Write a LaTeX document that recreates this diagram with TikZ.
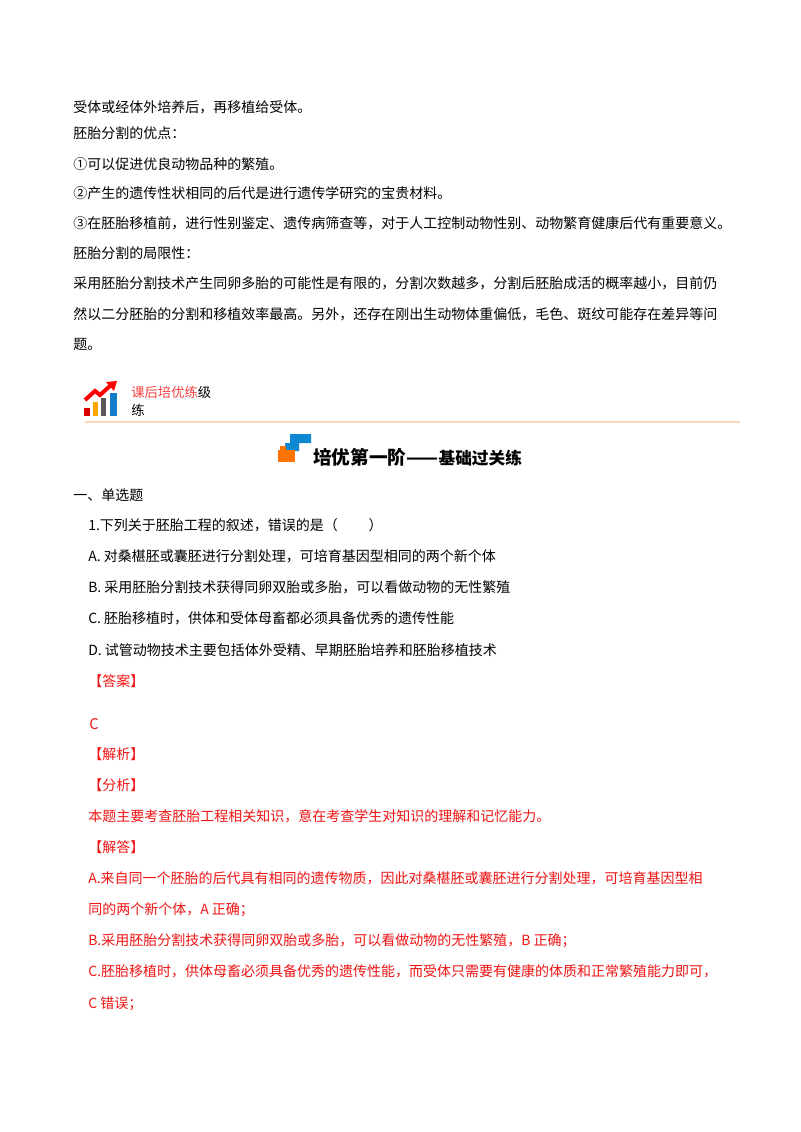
\documentclass[tikz,border=0pt]{standalone}
\usepackage{fontspec}
\setmainfont{Noto Sans CJK SC}
\XeTeXlinebreaklocale "zh"
\XeTeXlinebreakskip=0pt plus 2pt
\definecolor{rd}{RGB}{240,20,20}
\definecolor{ln}{RGB}{245,215,190}
\newcommand{\jl}[2]{\makebox[#1][s]{#2}}
\begin{document}
\begin{tikzpicture}[x=0.75pt,y=-0.75pt,
  t/.style={anchor=base west,inner sep=0pt,font=\fontsize{10.5pt}{12pt}\selectfont},
  r/.style={t,text=rd}]
\useasboundingbox[fill=white] (0,0) rectangle (800,1132);
\node[t] (l1) at (73,112) {受体或经体外培养后，再移植给受体。};
\node[t] (l2) at (73,138) {胚胎分割的优点：};
\node[t] (l3) at (73,169) {①可以促进优良动物品种的繁殖。};
\node[t] (l4) at (73,198) {②产生的遗传性状相同的后代是进行遗传学研究的宝贵材料。};
\node[t] (l5) at (73,228) {\jl{498pt}{③在胚胎移植前，进行性别鉴定、遗传病筛查等，对于人工控制动物性别、动物繁育健康后代有重要意义。}};
\node[t] (l6) at (73,258) {胚胎分割的局限性：};
\node[t] (l7) at (73,288) {\jl{498pt}{采用胚胎分割技术产生同卵多胎的可能性是有限的，分割次数越多，分割后胚胎成活的概率越小，目前仍}};
\node[t] (l8) at (73,319) {\jl{498pt}{然以二分胚胎的分割和移植效率最高。另外，还存在刚出生动物体重偏低，毛色、斑纹可能存在差异等问}};
\node[t] (l9) at (73,349) {题。};
% icon
\fill[red!85!black] (84,408) rectangle (90,416);
\fill[orange!70!yellow] (93,402) rectangle (98,416);
\fill[gray!70!black] (101,398) rectangle (106,416);
\fill[cyan!60!blue] (110,393) rectangle (117,416);
\draw[red,line width=3pt] (85,400) -- (95,391) -- (100,395) -- (111,385);
\fill[red] (117,381) -- (106,382) -- (114,391) -- cycle;
\node[anchor=base west,inner sep=0pt,font=\fontsize{10pt}{10pt}\selectfont] (h1) at (131,397) {\textcolor{rd!80}{课后培优练}级};
\node[anchor=base west,inner sep=0pt,font=\fontsize{10pt}{10pt}\selectfont] (h2) at (131,415) {练};
\draw[ln,line width=1pt] (85,422) -- (740,422);
% heading icon
\fill[cyan!70!blue] (290,434) rectangle (311,443) (285,443) rectangle (299,451);
\fill[orange!90!red] (278,450) rectangle (295,462);
\fill[orange!90!red] (280,446) rectangle (286,450);
\node[anchor=base west,inner sep=0pt,font=\fontsize{14pt}{15pt}\selectfont\bfseries] (hd) at (313,464) {培优第一阶——\fontsize{12.5pt}{13pt}\selectfont 基础过关练};
\node[t] (s) at (73,500) {一、单选题};
\node[t] (q) at (88,530) {1.下列关于胚胎工程的叙述，错误的是（\hspace{2.2em}）};
\node[t] (a) at (88,561) {A.\ 对桑椹胚或囊胚进行分割处理，可培育基因型相同的两个新个体};
\node[t] (b) at (88,592) {B.\ 采用胚胎分割技术获得同卵双胎或多胎，可以看做动物的无性繁殖};
\node[t] (c) at (88,623) {C.\ 胚胎移植时，供体和受体母畜都必须具备优秀的遗传性能};
\node[t] (d) at (88,655) {D.\ 试管动物技术主要包括体外受精、早期胚胎培养和胚胎移植技术};
\node[r] (ans) at (88,686) {【答案】};
\node[r,font=\fontsize{11pt}{12pt}\selectfont] (ac) at (89,729) {C};
\node[r] (jx) at (88,759) {【解析】};
\node[r] (fx) at (88,790) {【分析】};
\node[r] (fxt) at (88,821) {本题主要考查胚胎工程相关知识，意在考查学生对知识的理解和记忆能力。};
\node[r] (jd) at (88,852) {【解答】};
\node[r] (ja) at (88,883) {\jl{487.5pt}{A.来自同一个胚胎的后代具有相同的遗传物质，因此对桑椹胚或囊胚进行分割处理，可培育基因型相}};
\node[r] (ja2) at (88,914) {同的两个新个体，A 正确；};
\node[r] (jb) at (88,945) {B.采用胚胎分割技术获得同卵双胎或多胎，可以看做动物的无性繁殖，B 正确；};
\node[r] (jc) at (88,976) {\jl{487.5pt}{C.胚胎移植时，供体母畜必须具备优秀的遗传性能，而受体只需要有健康的体质和正常繁殖能力即可，}};
\node[r] (jc2) at (88,1008) {C 错误；};
\end{tikzpicture}
\end{document}
